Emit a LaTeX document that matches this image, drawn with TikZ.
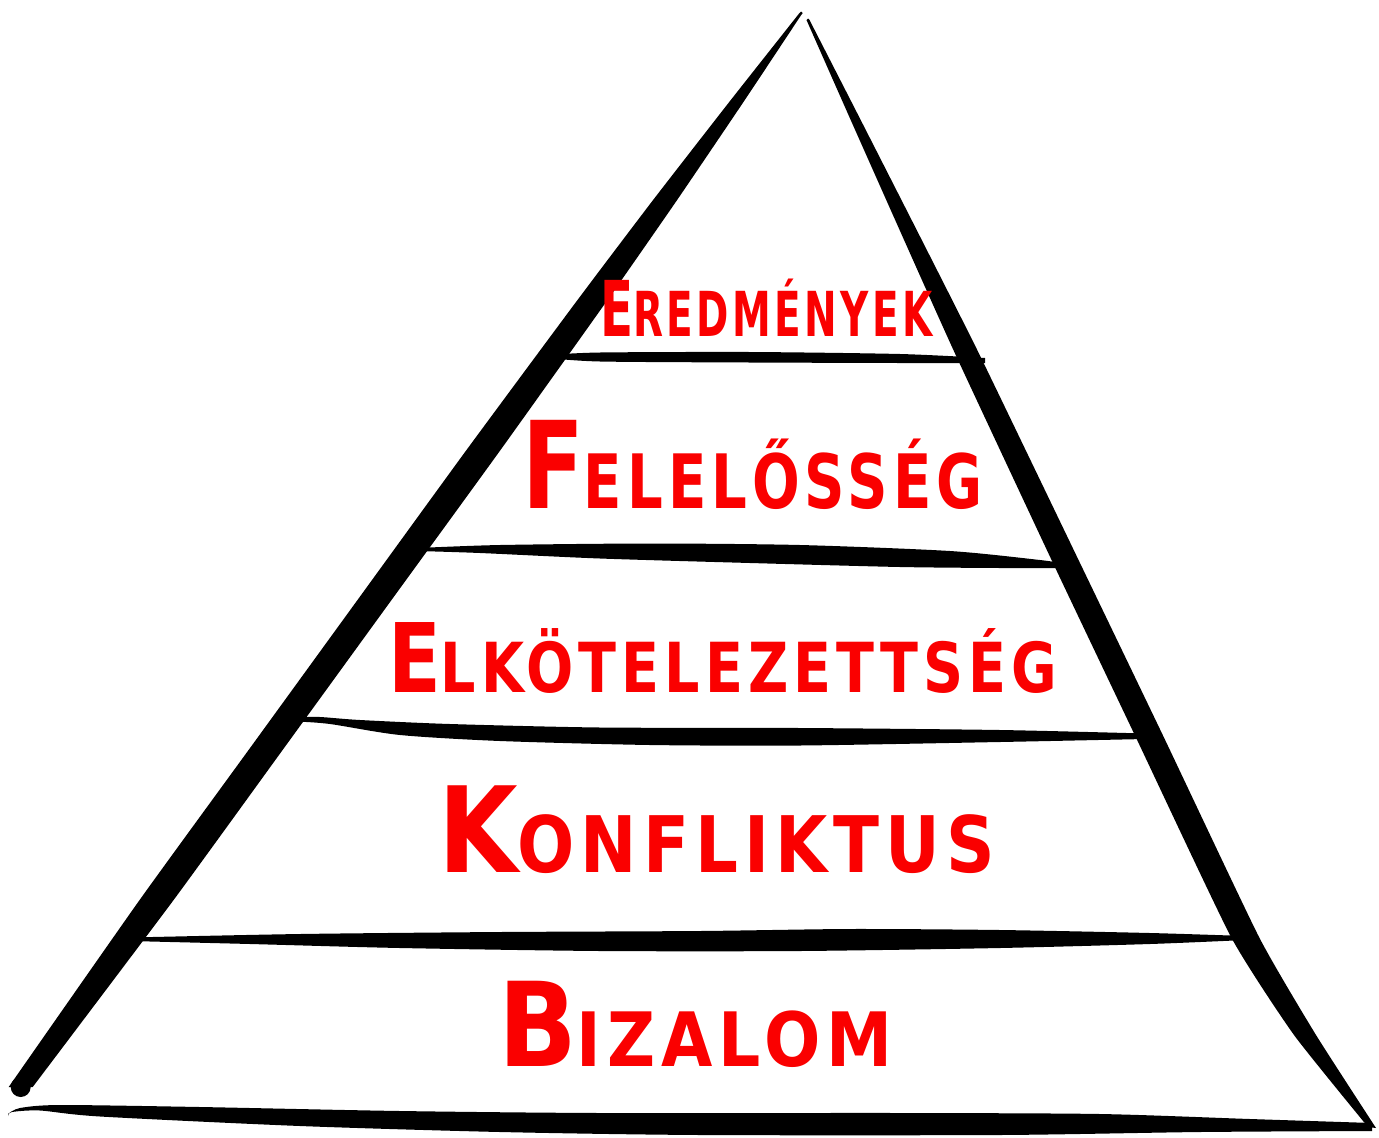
\documentclass[tikz,border=0pt]{standalone}
\usepackage{fontspec}
\newfontfamily\labfont[LetterSpace=9]{DejaVu Sans}
\usepackage{graphicx}
\definecolor{inkred}{RGB}{250,0,0}
\newsavebox\fitbox
\newlength\fitlen
\newcommand\fitw[2]{\sbox\fitbox{#2}\setlength\fitlen{\wd\fitbox}\pgfmathsetmacro\fitr{#1/\fitlen}\scalebox{\fitr}[1]{\usebox\fitbox}}
\newcommand\fs[1]{\fontsize{#1}{#1}\selectfont}
\tikzset{
  ink/.style={fill=black},
  label/.style={text=inkred,font=\labfont\bfseries,inner sep=0pt,outer sep=0pt,anchor=base west},
  sm/.style={smooth,tension=0.45},
  smr/.style={smooth,tension=0.3}
}
\begin{document}
\begin{tikzpicture}[x=1pt,y=-1pt]
\useasboundingbox[fill=white] (0,0) rectangle (1379,1138);
% left side
\fill[ink] plot[smr] coordinates {(799.5,13) (730.8,100) (653.1,200) (577.5,300) (466.5,450) (357.5,600) (248.6,750) (139.6,900) (8.7,1087)}
  -- plot[smr] coordinates {(32.7,1087) (173.6,900) (282.6,750) (391.5,600) (500.5,450) (607.5,300) (677.1,200) (744.8,100) (802.5,13)} -- cycle;
\fill[ink] (801,13) circle (1.5);
\fill[ink] (20.7,1087) circle (10);
% right side
\fill[ink] plot[smr] coordinates {(806.5,20) (850.7,120) (906.3,245) (955.7,355) (1052.5,562) (1135.7,737) (1231,937) (1294,1035) (1368,1127)}
  -- plot[smr] coordinates {(1376,1128) (1316,1035) (1259,937) (1163.7,737) (1079.5,562) (979.7,355) (924.3,245) (860.7,120) (809.5,20)} -- cycle;
\fill[ink] (808,20) circle (1.5);
% level lines
\fill[ink] plot[sm] coordinates {(548,355) (600,352.5) (750,352) (900,354) (985,358)}
  -- plot[sm] coordinates {(985,363) (900,363) (750,362.5) (600,361.5) (548,358)} -- cycle;
\fill[ink] plot[sm] coordinates {(418,548) (500,545) (650,543.5) (800,545) (950,551) (1040,560) (1060,563)}
  -- plot[sm] coordinates {(1060,568) (1000,568) (900,567) (750,563) (600,558.5) (480,553) (418,551)} -- cycle;
\fill[ink] plot[sm] coordinates {(288,721) (300,717.5) (320,717) (360,720) (450,724) (600,727.5) (800,728) (1000,730) (1145,733.5)}
  -- plot[sm] coordinates {(1145,739) (1000,742) (800,745.5) (650,745) (500,741) (400,735) (330,724) (295,721.5) (288,723)} -- cycle;
\fill[ink] plot[sm] coordinates {(130,937.5) (300,934) (500,932) (700,931) (850,929) (1000,930) (1150,933) (1245,936)}
  -- plot[sm] coordinates {(1245,940) (1150,944) (1000,948) (800,951) (600,951) (400,948) (250,944) (130,941)} -- cycle;
\fill[ink] plot[sm] coordinates {(8,1114) (20,1108) (60,1105) (200,1107) (400,1111) (600,1113) (900,1113) (1100,1114) (1250,1119) (1372,1123)}
  -- plot[sm] coordinates {(1372,1131) (1200,1132) (1000,1135) (700,1135) (500,1132) (300,1126) (100,1116.5) (40,1110.5) (12,1112) (8,1116)} -- cycle;
% labels
\node[label] (t1) at (600,336) {\fitw{333}{\fs{77}E\fs{62}REDMÉNYEK}};
\node[label] (t2) at (522,508) {\fitw{461}{\fs{121}F\fs{75}ELELŐSSÉG}};
\node[label] (t3) at (388,692) {\fitw{669}{\fs{96}E\fs{69}LKÖTELEZETTSÉG}};
\node[label] (t4) at (438,872) {\fitw{557}{\fs{119}K\fs{78}ONFLIKTUS}};
\node[label] (t5) at (498,1066) {\fitw{395}{\fs{117}B\fs{75}IZALOM}};
\end{tikzpicture}
\end{document}
